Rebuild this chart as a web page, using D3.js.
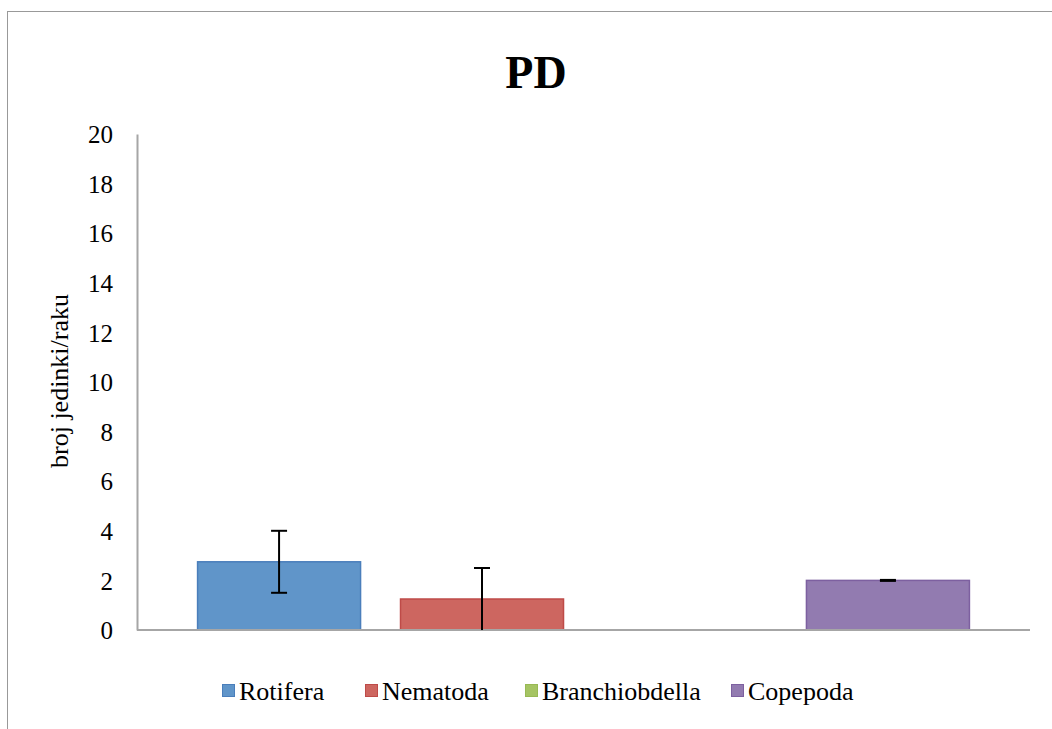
<!DOCTYPE html>
<html>
<head>
<meta charset="utf-8">
<script src="https://cdn.jsdelivr.net/npm/d3@7"></script>
<style>
  body { margin: 0; background: #fff; }
  svg { display: block; }
</style>
</head>
<body>
<svg id="chart" width="1052" height="729"></svg>
<script>
const title = "PD";
const yAxisTitle = "broj jedinki/raku";
const series = ["Rotifera", "Nematoda", "Branchiobdella", "Copepoda"];
const values = [2.75, 1.25, 0, 2.0];
const errors = [1.25, 1.25, 0, 0.02];
const yTicks = [0, 2, 4, 6, 8, 10, 12, 14, 16, 18, 20];
const fills = ["#6095C9", "#CD6660", "#A5C463", "#927BB0"];
const strokes = ["#4A7EBB", "#BE4B48", "#98B954", "#7D60A0"];

const FONT = '"Liberation Serif", "Times New Roman", serif';
const svg = d3.select("#chart");

// outer frame
svg.append("rect").attr("x", 7.5).attr("y", 11.5).attr("width", 1100).attr("height", 800)
  .attr("fill", "none").attr("stroke", "#999").attr("stroke-width", 1);

const plot = { left: 137, right: 1030, top: 134, bottom: 630 };

const y = d3.scaleLinear().domain([0, 20]).range([plot.bottom, plot.top]);
const x = d3.scaleBand().domain(series).range([plot.left, plot.right])
  .paddingInner(0.192).paddingOuter(0.296);

// title
svg.append("text").attr("x", 536).attr("y", 88).attr("text-anchor", "middle")
  .style("font-family", FONT).style("font-size", "46px").style("font-weight", "bold")
  .style("fill", "#000").text(title);

// y axis
const yAxis = d3.axisLeft(y).tickValues(yTicks).tickSize(0).tickPadding(24);
const gy = svg.append("g").attr("transform", `translate(${plot.left},0)`).call(yAxis);
gy.select(".domain").attr("stroke", "#A6A6A6").attr("stroke-width", 2);
gy.selectAll("text").style("font-family", FONT).style("font-size", "25px")
  .style("fill", "#000").attr("dy", "0.35em");

// y axis title
svg.append("text").attr("transform", `translate(68,381) rotate(-90)`)
  .attr("text-anchor", "middle").style("font-family", FONT).style("font-size", "26px")
  .style("fill", "#000").text(yAxisTitle);

// bars
svg.selectAll("rect.bar").data(series).enter().append("rect")
  .attr("class", "bar")
  .attr("x", d => x(d) + 0.5)
  .attr("y", (d, i) => y(values[i]))
  .attr("width", x.bandwidth() - 1)
  .attr("height", (d, i) => plot.bottom - y(values[i]))
  .attr("fill", (d, i) => fills[i])
  .attr("stroke", (d, i) => strokes[i])
  .attr("stroke-width", (d, i) => values[i] > 0 ? 1.5 : 0);

// x axis
svg.append("line").attr("x1", plot.left).attr("x2", plot.right)
  .attr("y1", plot.bottom).attr("y2", plot.bottom)
  .attr("stroke", "#A6A6A6").attr("stroke-width", 2);

// error bars
const eb = svg.selectAll("g.err").data(series.map((s, i) => ({ s, v: values[i], e: errors[i] })).filter(d => d.v > 0))
  .enter().append("g").attr("class", "err");
eb.append("line")
  .attr("x1", d => x(d.s) + x.bandwidth() / 2).attr("x2", d => x(d.s) + x.bandwidth() / 2)
  .attr("y1", d => y(d.v + d.e)).attr("y2", d => y(Math.max(0, d.v - d.e)))
  .attr("stroke", "#000").attr("stroke-width", 2);
eb.append("line")
  .attr("x1", d => x(d.s) + x.bandwidth() / 2 - 8).attr("x2", d => x(d.s) + x.bandwidth() / 2 + 8)
  .attr("y1", d => y(d.v + d.e)).attr("y2", d => y(d.v + d.e))
  .attr("stroke", "#000").attr("stroke-width", 2);
eb.filter(d => d.v - d.e > 0.05).append("line")
  .attr("x1", d => x(d.s) + x.bandwidth() / 2 - 8).attr("x2", d => x(d.s) + x.bandwidth() / 2 + 8)
  .attr("y1", d => y(d.v - d.e)).attr("y2", d => y(d.v - d.e))
  .attr("stroke", "#000").attr("stroke-width", 2);

// legend
const legendX = [222, 365, 525, 731];
const lg = svg.selectAll("g.leg").data(series).enter().append("g")
  .attr("transform", (d, i) => `translate(${legendX[i]},684)`);
lg.append("rect").attr("x", 0.5).attr("y", 0.5).attr("width", 12).attr("height", 12)
  .attr("fill", (d, i) => fills[i]).attr("stroke", (d, i) => strokes[i]);
lg.append("text").attr("x", 17).attr("y", 16).style("font-family", FONT).style("font-size", "26px")
  .style("fill", "#000").text(d => d);
</script>
</body>
</html>
